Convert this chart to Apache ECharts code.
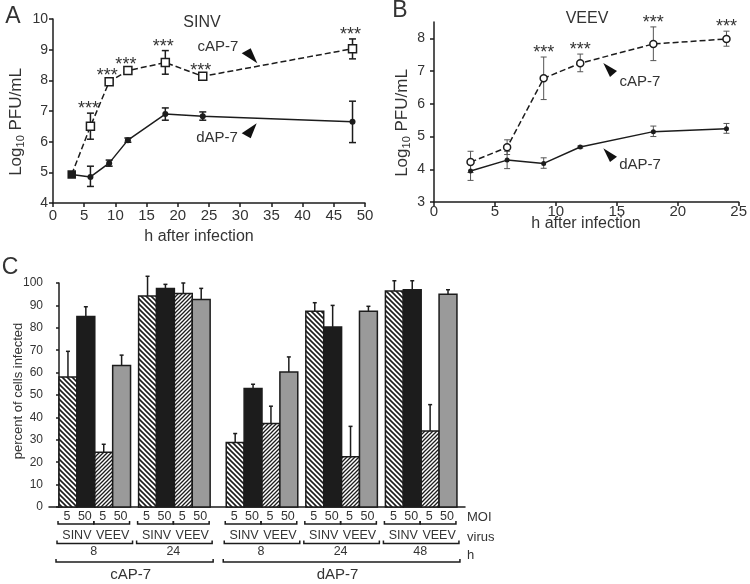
<!DOCTYPE html>
<html><head><meta charset="utf-8">
<script src="https://cdn.jsdelivr.net/npm/echarts@6/dist/echarts.min.js"></script>
<style>html,body{margin:0;padding:0;background:#fff}#c{width:750px;height:584px}</style>
</head><body><div id="c"></div>
<script>
// ---------- Panel A : SINV growth (log10 PFU/mL) ----------
const hoursA = [3, 6, 9, 12, 18, 24, 48];
const sinvCap   = [4.93, 6.50, 7.95, 8.32, 8.58, 8.13, 9.03];
const sinvCapLo = [4.90, 6.08, 7.90, 8.28, 8.20, 8.10, 8.70];
const sinvCapHi = [4.96, 6.93, 8.00, 8.36, 8.97, 8.17, 9.35];
const sinvDap   = [4.93, 4.85, 5.30, 6.05, 6.90, 6.83, 6.65];
const sinvDapLo = [4.88, 4.54, 5.20, 5.98, 6.70, 6.70, 5.97];
const sinvDapHi = [4.98, 5.20, 5.40, 6.12, 7.10, 6.97, 7.32];
const sinvStars = [false, true, true, true, true, true, true];

// ---------- Panel B : VEEV growth ----------
const hoursB = [3, 6, 9, 12, 18, 24];
const veevCap   = [4.22, 4.67, 6.78, 7.24, 7.83, 7.98];
const veevCapLo = [3.90, 4.45, 6.13, 6.98, 7.32, 7.76];
const veevCapHi = [4.55, 4.90, 7.43, 7.52, 8.35, 8.22];
const veevDap   = [3.95, 4.28, 4.18, 4.68, 5.15, 5.24];
const veevDapLo = [3.66, 4.02, 4.03, 4.65, 5.00, 5.10];
const veevDapHi = [4.20, 4.55, 4.35, 4.71, 5.32, 5.40];
const veevStars = [false, false, true, true, true, true];

// ---------- Panel C : percent of cells infected ----------
const treatments = ['cAP-7', 'cAP-7', 'dAP-7', 'dAP-7', 'dAP-7'];
const hoursC = ['8', '24', '8', '24', '48'];
const virusesC = ['SINV', 'VEEV'];
const moisC = ['5', '50'];
const sinv5    = [58.0, 94.2, 28.8, 87.4, 96.4];
const sinv5Hi  = [69.5, 103.0, 32.8, 91.2, 101.0];
const sinv50   = [85.0, 97.5, 52.9, 80.4, 97.0];
const sinv50Hi = [89.4, 99.4, 54.8, 90.0, 101.0];
const veev5    = [24.4, 95.3, 37.3, 22.4, 33.9];
const veev5Hi  = [28.0, 100.0, 45.0, 36.0, 45.7];
const veev50   = [63.2, 92.6, 60.3, 87.4, 95.0];
const veev50Hi = [67.8, 97.6, 67.0, 89.6, 97.0];

const FONT = 'Liberation Sans, Arial, Helvetica, sans-serif';
const TXT = '#333';
const INK = '#1c1c1c';

// hatch patterns
function hatch(size, dir, lw) {
  const c = document.createElement('canvas'); c.width = c.height = size;
  const g = c.getContext('2d');
  g.fillStyle = '#fff'; g.fillRect(0, 0, size, size);
  g.strokeStyle = INK; g.lineWidth = lw; g.beginPath();
  if (dir > 0) {
    g.moveTo(-1, size + 1); g.lineTo(size + 1, -1);
    g.moveTo(-1, 1); g.lineTo(1, -1);
    g.moveTo(size - 1, size + 1); g.lineTo(size + 1, size - 1);
  } else {
    g.moveTo(-1, -1); g.lineTo(size + 1, size + 1);
    g.moveTo(size - 1, -1); g.lineTo(size + 1, 1);
    g.moveTo(-1, size - 1); g.lineTo(1, size + 1);
  }
  g.stroke();
  return c;
}
const fills = [
  { image: hatch(5, -1, 1.6), repeat: 'repeat' },
  '#1c1c1c',
  { image: hatch(4, 1, 1.3), repeat: 'repeat' },
  '#9a9a9a'
];

const zip = (xs, ys) => xs.map((x, i) => [x, ys[i]]);

function errSeries(xi, xs, lo, hi, color, lw, cap) {
  return {
    type: 'custom', xAxisIndex: xi, yAxisIndex: xi, z: 3, silent: true,
    data: xs.map((x, i) => [x, lo[i], hi[i]]),
    renderItem: (p, api) => {
      const x = api.value(0);
      const a = api.coord([x, api.value(1)]);
      const b = api.coord([x, api.value(2)]);
      const w = cap / 2, st = { stroke: color, lineWidth: lw };
      return { type: 'group', children: [
        { type: 'line', shape: { x1: a[0], y1: a[1], x2: b[0], y2: b[1] }, style: st },
        { type: 'line', shape: { x1: a[0] - w, y1: a[1], x2: a[0] + w, y2: a[1] }, style: st },
        { type: 'line', shape: { x1: b[0] - w, y1: b[1], x2: b[0] + w, y2: b[1] }, style: st }
      ]};
    }
  };
}
function starSeries(xi, xs, hi, flags, dx) {
  return {
    type: 'custom', xAxisIndex: xi, yAxisIndex: xi, z: 6, silent: true,
    data: xs.map((x, i) => [x, hi[i]]).filter((d, i) => flags[i]),
    renderItem: (p, api) => {
      const pt = api.coord([api.value(0), api.value(1)]);
      return { type: 'text', x: pt[0] + dx, y: pt[1] + 5,
        style: { text: '***', fill: TXT, font: '18px ' + FONT, align: 'center', textAlign: 'center',
                 verticalAlign: 'bottom', textVerticalAlign: 'bottom' } };
    }
  };
}
function dashedLine(xi, data, sym, size) {
  return {
    type: 'line', xAxisIndex: xi, yAxisIndex: xi, z: 4, silent: true,
    data: data.map((d, i) => i === 0 && xi === 0 ? { value: d, itemStyle: { color: INK }, symbolSize: 7 } : d),
    lineStyle: { type: [6, 3], width: 1.5, color: INK },
    symbol: sym, symbolSize: size,
    itemStyle: { color: '#fff', borderColor: INK, borderWidth: 1.5 }
  };
}
function solidLine(xi, data, size) {
  return {
    type: 'line', xAxisIndex: xi, yAxisIndex: xi, z: 5, silent: true, data,
    lineStyle: { width: 1.5, color: INK },
    symbol: 'circle', symbolSize: size, itemStyle: { color: INK }
  };
}

// Panel C layout (in bar-width units)
const groupGapBefore = [0, 0.45, 0.9, 0.45, 0.45];
const groupStart = [];
groupGapBefore.reduce((acc, gap, g) => { const s = acc + gap; groupStart.push(s); return s + 4; }, 0);
const barVals = [sinv5, sinv50, veev5, veev50];
const barHis = [sinv5Hi, sinv50Hi, veev5Hi, veev50Hi];
const barData = [];
groupStart.forEach((s, g) => {
  for (let b = 0; b < 4; b++) barData.push([s + b + 0.5, barVals[b][g], barHis[b][g], b]);
});
const treatSpans = [];
treatments.forEach((t, g) => {
  const last = treatSpans[treatSpans.length - 1];
  if (last && last.name === t) last.end = groupStart[g] + 4;
  else treatSpans.push({ name: t, start: groupStart[g], end: groupStart[g] + 4 });
});

function bracket(x1, x2, y) {
  return { type: 'polyline', shape: { points: [[x1, y - 3], [x1, y], [x2, y], [x2, y - 3]] },
           style: { stroke: INK, lineWidth: 1.5, fill: 'none' } };
}
function label(text, x, y, size) {
  return { type: 'text', x, y, style: { text, fill: TXT, font: size + 'px ' + FONT,
    align: 'center', textAlign: 'center', verticalAlign: 'middle', textVerticalAlign: 'middle' } };
}

const axisCommon = {
  axisLine: { lineStyle: { color: INK, width: 1.5 } },
  axisTick: { length: 4, lineStyle: { color: INK, width: 1.5 } },
  splitLine: { show: false }
};

const chart = echarts.init(document.getElementById('c'), null, { renderer: 'canvas' });
chart.setOption({
  animation: false,
  textStyle: { fontFamily: FONT },
  grid: [
    { left: 53, top: 19, width: 312, height: 184 },
    { left: 434, top: 22, width: 306, height: 180 },
    { left: 49, top: 283, width: 416, height: 224 }
  ],
  xAxis: [
    Object.assign({ gridIndex: 0, type: 'value', min: 0, max: 50, interval: 5,
      axisLabel: { color: TXT, fontSize: 15, margin: 5 } }, axisCommon),
    Object.assign({ gridIndex: 1, type: 'value', min: 0, max: 25, interval: 5,
      axisLabel: { color: TXT, fontSize: 15, margin: 2 } }, axisCommon),
    Object.assign({ gridIndex: 2, type: 'value', min: -0.56, max: 22.7,
      axisLabel: { show: false } }, axisCommon, { axisTick: { show: false } })
  ],
  yAxis: [
    Object.assign({ gridIndex: 0, type: 'value', min: 4, max: 10, interval: 1,
      axisLabel: { color: TXT, fontSize: 14, margin: 5 } }, axisCommon),
    Object.assign({ gridIndex: 1, type: 'value', min: 3, max: 8.5, interval: 1,
      axisLabel: { color: TXT, fontSize: 14, margin: 9, customValues: [3, 4, 5, 6, 7, 8] } },
      axisCommon, { axisTick: { length: 4, lineStyle: { color: INK, width: 1.5 }, customValues: [3, 4, 5, 6, 7, 8] } }),
    Object.assign({ gridIndex: 2, type: 'value', min: 0, max: 100, interval: 10,
      axisLabel: { color: TXT, fontSize: 12, margin: 6 } }, axisCommon,
      { axisTick: { length: 3, lineStyle: { color: INK, width: 1.5 } } })
  ],
  series: [
    errSeries(0, hoursA, sinvCapLo, sinvCapHi, INK, 1.5, 7),
    errSeries(0, hoursA, sinvDapLo, sinvDapHi, INK, 1.5, 7),
    dashedLine(0, zip(hoursA, sinvCap), 'rect', 8),
    solidLine(0, zip(hoursA, sinvDap), 6),
    starSeries(0, hoursA, sinvCapHi, sinvStars, -2),

    errSeries(1, hoursB, veevCapLo, veevCapHi, '#555', 1, 6),
    errSeries(1, hoursB, veevDapLo, veevDapHi, '#555', 1, 6),
    dashedLine(1, zip(hoursB, veevCap), 'circle', 7),
    solidLine(1, zip(hoursB, veevDap), 5),
    starSeries(1, hoursB, veevCapHi, veevStars, 0),

    { // bars with upward error bars
      type: 'custom', xAxisIndex: 2, yAxisIndex: 2, z: 3, silent: true, clip: false,
      data: barData,
      renderItem: (p, api) => {
        const x = api.value(0), v = api.value(1), hi = api.value(2), t = api.value(3);
        const p0 = api.coord([x - 0.5, 0]), p1 = api.coord([x + 0.5, v]);
        const c = api.coord([x, hi]);
        const xm = (p0[0] + p1[0]) / 2;
        return { type: 'group', children: [
          { type: 'line', shape: { x1: xm, y1: p1[1], x2: xm, y2: c[1] }, style: { stroke: INK, lineWidth: 1.5 } },
          { type: 'line', shape: { x1: xm - 2, y1: c[1], x2: xm + 2, y2: c[1] }, style: { stroke: INK, lineWidth: 1.5 } },
          { type: 'rect', shape: { x: p0[0], y: p1[1], width: p1[0] - p0[0], height: p0[1] - p1[1] },
            style: { fill: fills[t], stroke: INK, lineWidth: 1.5 } }
        ]};
      }
    },
    { // group labels under panel C
      type: 'custom', xAxisIndex: 2, yAxisIndex: 2, z: 3, silent: true, clip: false,
      data: groupStart.map(s => [s, 0]),
      renderItem: (p, api) => {
        const g = p.dataIndex, s = api.value(0);
        const base = api.coord([s, 0])[1];
        const X = u => api.coord([u, 0])[0];
        const ch = [];
        for (let b = 0; b < 4; b++) ch.push(label(moisC[b % 2], X(s + b + 0.5) - 1, base + 9.5, 12.5));
        for (let v = 0; v < 2; v++) {
          ch.push(bracket(X(s + 2 * v) - 1, X(s + 2 * v + 2) - 1, base + 17));
          ch.push(label(virusesC[v], X(s + 2 * v + 1), base + 29, 12.5));
        }
        ch.push(bracket(X(s) - 2, X(s + 4) + 2, base + 36.5));
        ch.push(label(hoursC[g], X(s + 2) - 1, base + 45, 12.5));
        return { type: 'group', children: ch };
      }
    },
    { // treatment brackets
      type: 'custom', xAxisIndex: 2, yAxisIndex: 2, z: 3, silent: true, clip: false,
      data: treatSpans.map(t => [t.start, t.end]),
      renderItem: (p, api) => {
        const a = api.coord([api.value(0), 0]), b = api.coord([api.value(1), 0]);
        return { type: 'group', children: [
          bracket(a[0] - 3, b[0] + 3, a[1] + 55),
          label(treatSpans[p.dataIndex].name, (a[0] + b[0]) / 2 - 4, a[1] + 67.5, 15)
        ]};
      }
    }
  ],
  graphic: [
    { type: 'text', x: 13, y: 17, style: { text: 'A', fill: TXT, font: '23px ' + FONT, align: 'center', verticalAlign: 'middle' } },
    { type: 'text', x: 400, y: 11, style: { text: 'B', fill: TXT, font: '23px ' + FONT, align: 'center', verticalAlign: 'middle' } },
    { type: 'text', x: 10, y: 268, style: { text: 'C', fill: TXT, font: '23px ' + FONT, align: 'center', verticalAlign: 'middle' } },
    { type: 'text', x: 202, y: 23, style: { text: 'SINV', fill: TXT, font: '16px ' + FONT, align: 'center', verticalAlign: 'middle' } },
    { type: 'text', x: 587, y: 19, style: { text: 'VEEV', fill: TXT, font: '16px ' + FONT, align: 'center', verticalAlign: 'middle' } },
    { type: 'text', x: 218, y: 47, style: { text: 'cAP-7', fill: TXT, font: '15px ' + FONT, align: 'center', verticalAlign: 'middle' } },
    { type: 'text', x: 217, y: 138, style: { text: 'dAP-7', fill: TXT, font: '15px ' + FONT, align: 'center', verticalAlign: 'middle' } },
    { type: 'text', x: 640, y: 82, style: { text: 'cAP-7', fill: TXT, font: '15px ' + FONT, align: 'center', verticalAlign: 'middle' } },
    { type: 'text', x: 640, y: 165, style: { text: 'dAP-7', fill: TXT, font: '15px ' + FONT, align: 'center', verticalAlign: 'middle' } },
    { type: 'polygon', shape: { points: [[241.7, 53.3], [250.7, 48.3], [257.3, 63.3]] }, style: { fill: '#111' } },
    { type: 'polygon', shape: { points: [[241.7, 133.3], [256.7, 123.3], [250.7, 138.3]] }, style: { fill: '#111' } },
    { type: 'polygon', shape: { points: [[603.3, 63], [617, 71], [610, 77]] }, style: { fill: '#111' } },
    { type: 'polygon', shape: { points: [[603.3, 148.3], [617, 156.7], [610, 162]] }, style: { fill: '#111' } },
    { type: 'text', x: 199, y: 237, style: { text: 'h after infection', fill: TXT, font: '16px ' + FONT, align: 'center', verticalAlign: 'middle' } },
    { type: 'text', x: 586, y: 224, style: { text: 'h after infection', fill: TXT, font: '16px ' + FONT, align: 'center', verticalAlign: 'middle' } },
    { type: 'text', x: 16, y: 122, rotation: Math.PI / 2, style: { text: '{a|Log}{s|10}{a| PFU/mL}', fill: TXT, font: '17px ' + FONT, align: 'center', verticalAlign: 'middle',
      rich: { a: { fontSize: 17, lineHeight: 20, fontFamily: FONT, fill: TXT }, s: { fontSize: 11, lineHeight: 11, verticalAlign: 'bottom', fontFamily: FONT, fill: TXT } } } },
    { type: 'text', x: 402, y: 123, rotation: Math.PI / 2, style: { text: '{a|Log}{s|10}{a| PFU/mL}', fill: TXT, font: '17px ' + FONT, align: 'center', verticalAlign: 'middle',
      rich: { a: { fontSize: 17, lineHeight: 20, fontFamily: FONT, fill: TXT }, s: { fontSize: 11, lineHeight: 11, verticalAlign: 'bottom', fontFamily: FONT, fill: TXT } } } },
    { type: 'text', x: 18, y: 391, rotation: Math.PI / 2, style: { text: 'percent of cells infected', fill: TXT, font: '13px ' + FONT, align: 'center', verticalAlign: 'middle' } },
    { type: 'text', x: 467, y: 517, style: { text: 'MOI', fill: TXT, font: '13px ' + FONT, align: 'left', verticalAlign: 'middle' } },
    { type: 'text', x: 467, y: 537, style: { text: 'virus', fill: TXT, font: '13px ' + FONT, align: 'left', verticalAlign: 'middle' } },
    { type: 'text', x: 467, y: 555, style: { text: 'h', fill: TXT, font: '13px ' + FONT, align: 'left', verticalAlign: 'middle' } }
  ]
});
</script>
</body></html>
